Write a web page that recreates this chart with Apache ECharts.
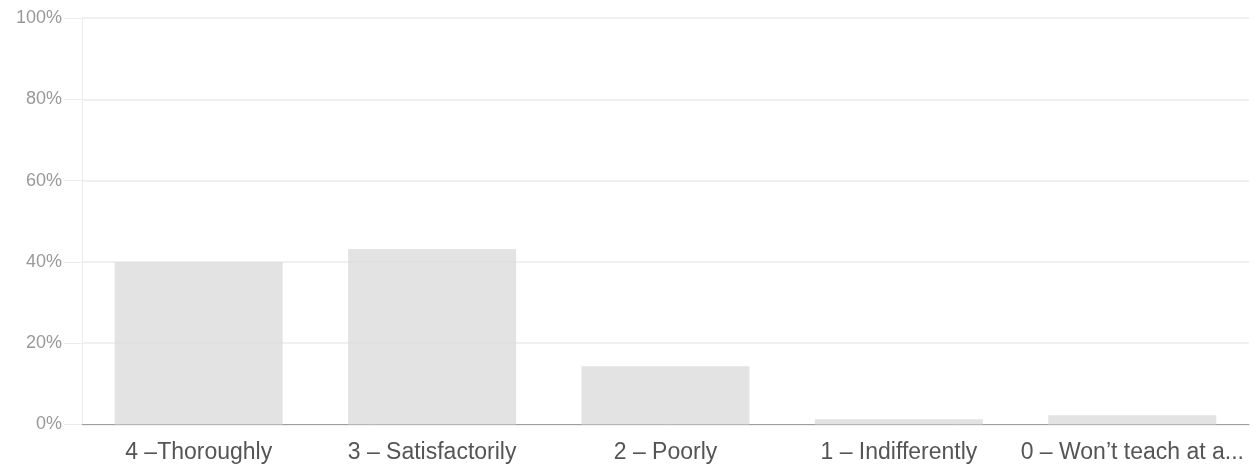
<!DOCTYPE html>
<html>
<head>
<meta charset="utf-8">
<script src="https://cdn.jsdelivr.net/npm/echarts@6/dist/echarts.min.js"></script>
<style>html,body{margin:0;padding:0;background:#fff;}#c{width:1258px;height:468px;}</style>
</head>
<body>
<div id="c"></div>
<script>
var categories = ['4 –Thoroughly', '3 – Satisfactorily', '2 – Poorly', '1 – Indifferently', '0 – Won’t teach at a...'];
var values = [40, 43.2, 14.3, 1.3, 2.3];
var yTicks = [0, 20, 40, 60, 80, 100];

var chart = echarts.init(document.getElementById('c'));
chart.setOption({
  animation: false,
  grid: { left: 82, right: 9, top: 18, bottom: 43.5, containLabel: false },
  xAxis: {
    type: 'category',
    data: categories,
    axisLine: { show: true, lineStyle: { color: '#9e9e9e', width: 1 } },
    axisTick: { show: false },
    axisLabel: { interval: 0, hideOverlap: false, color: '#555', fontSize: 23, fontFamily: 'Liberation Sans, Arial, sans-serif', margin: 17 }
  },
  yAxis: {
    type: 'value',
    min: 0, max: 100, interval: 20,
    axisLine: { show: true, lineStyle: { color: '#ebebeb' } },
    axisTick: { show: true, length: 18, lineStyle: { color: '#ebebeb' } },
    splitLine: { show: true, lineStyle: { color: '#ebebeb', width: 1.5 } },
    axisLabel: { color: '#999', fontSize: 18, fontFamily: 'Liberation Sans, Arial, sans-serif', margin: 20,
      formatter: function (v) { return yTicks.indexOf(v) >= 0 ? v + '%' : ''; } }
  },
  series: [{
    type: 'bar',
    data: values,
    barCategoryGap: '28%',
    itemStyle: { color: 'rgba(220,220,220,0.8)' }
  }]
});
</script>
</body>
</html>
